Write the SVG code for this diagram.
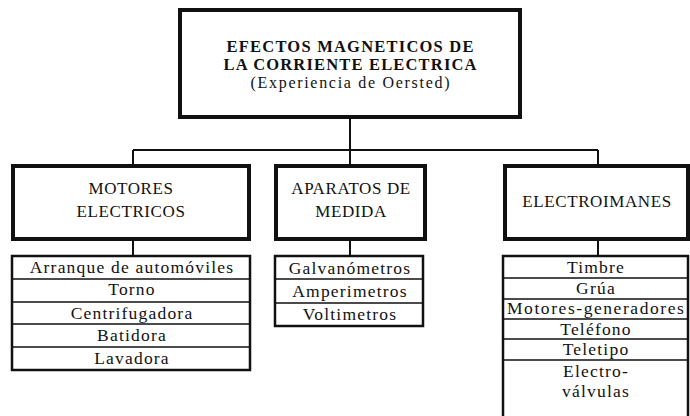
<svg xmlns="http://www.w3.org/2000/svg" width="690" height="416" viewBox="0 0 690 416">
<style>
.box{fill:#fff;stroke:#111;stroke-width:4}
.list{fill:#fff;stroke:#111;stroke-width:2.5}
.div{stroke:#111;stroke-width:1.5}
.con{stroke:#111;stroke-width:2;fill:none}
text{font-family:"Liberation Serif","Times New Roman",serif;fill:#111;text-anchor:middle}
.t{font-size:16.5px;font-weight:bold}
.s{font-size:16px}
.h{font-size:17px;letter-spacing:0.6px}
.l{font-size:17.5px;letter-spacing:1.2px}
</style>
<rect width="690" height="416" fill="#fff"/>
<g id="connectors">
<path class="con" d="M350 117V150M133 150H598M133 150V166M350 150V166M598 150V166"/>
<path class="con" d="M133 239V256M350 239V256M598 239V256"/>
</g>
<g id="root">
<rect class="box" x="180" y="10" width="340" height="107"/>
<text class="t" x="350" y="52" textLength="247" lengthAdjust="spacing">EFECTOS MAGNETICOS DE</text>
<text class="t" x="350" y="70" textLength="253" lengthAdjust="spacing">LA CORRIENTE ELECTRICA</text>
<text class="s" x="350" y="88" textLength="199" lengthAdjust="spacing">(Experiencia de Oersted)</text>
</g>
<g id="motores">
<rect class="box" x="13" y="166" width="236" height="73"/>
<text class="h" x="131" y="194">MOTORES</text>
<text class="h" x="131" y="217">ELECTRICOS</text>
</g>
<g id="aparatos">
<rect class="box" x="276" y="166" width="149" height="73"/>
<text class="h" x="351" y="194">APARATOS DE</text>
<text class="h" x="351" y="217">MEDIDA</text>
</g>
<g id="electroimanes">
<rect class="box" x="505" y="166" width="183" height="73"/>
<text class="h" x="597" y="207">ELECTROIMANES</text>
</g>
<g id="lista-motores">
<rect class="list" x="12" y="256" width="238" height="114"/>
<path class="div" d="M12 279H250M12 302H250M12 324H250M12 347H250"/>
<text class="l" x="132" y="273">Arranque de automóviles</text>
<text class="l" x="132" y="295">Torno</text>
<text class="l" x="132" y="319">Centrifugadora</text>
<text class="l" x="132" y="341">Batidora</text>
<text class="l" x="132" y="364">Lavadora</text>
</g>
<g id="lista-aparatos">
<rect class="list" x="275" y="256" width="148" height="70"/>
<path class="div" d="M275 279H423M275 303H423"/>
<text class="l" x="350" y="274">Galvanómetros</text>
<text class="l" x="350" y="297">Amperimetros</text>
<text class="l" x="350" y="320">Voltimetros</text>
</g>
<g id="lista-electroimanes">
<rect class="list" x="503" y="256" width="185" height="166"/>
<path class="div" d="M503 278H688M503 299H688M503 319H688M503 339H688M503 360H688"/>
<text class="l" x="596" y="273">Timbre</text>
<text class="l" x="596" y="294">Grúa</text>
<text class="l" x="596" y="314" textLength="178" lengthAdjust="spacing">Motores-generadores</text>
<text class="l" x="596" y="335">Teléfono</text>
<text class="l" x="596" y="355">Teletipo</text>
<text class="l" x="596" y="377">Electro-</text>
<text class="l" x="596" y="397">válvulas</text>
</g>
</svg>
